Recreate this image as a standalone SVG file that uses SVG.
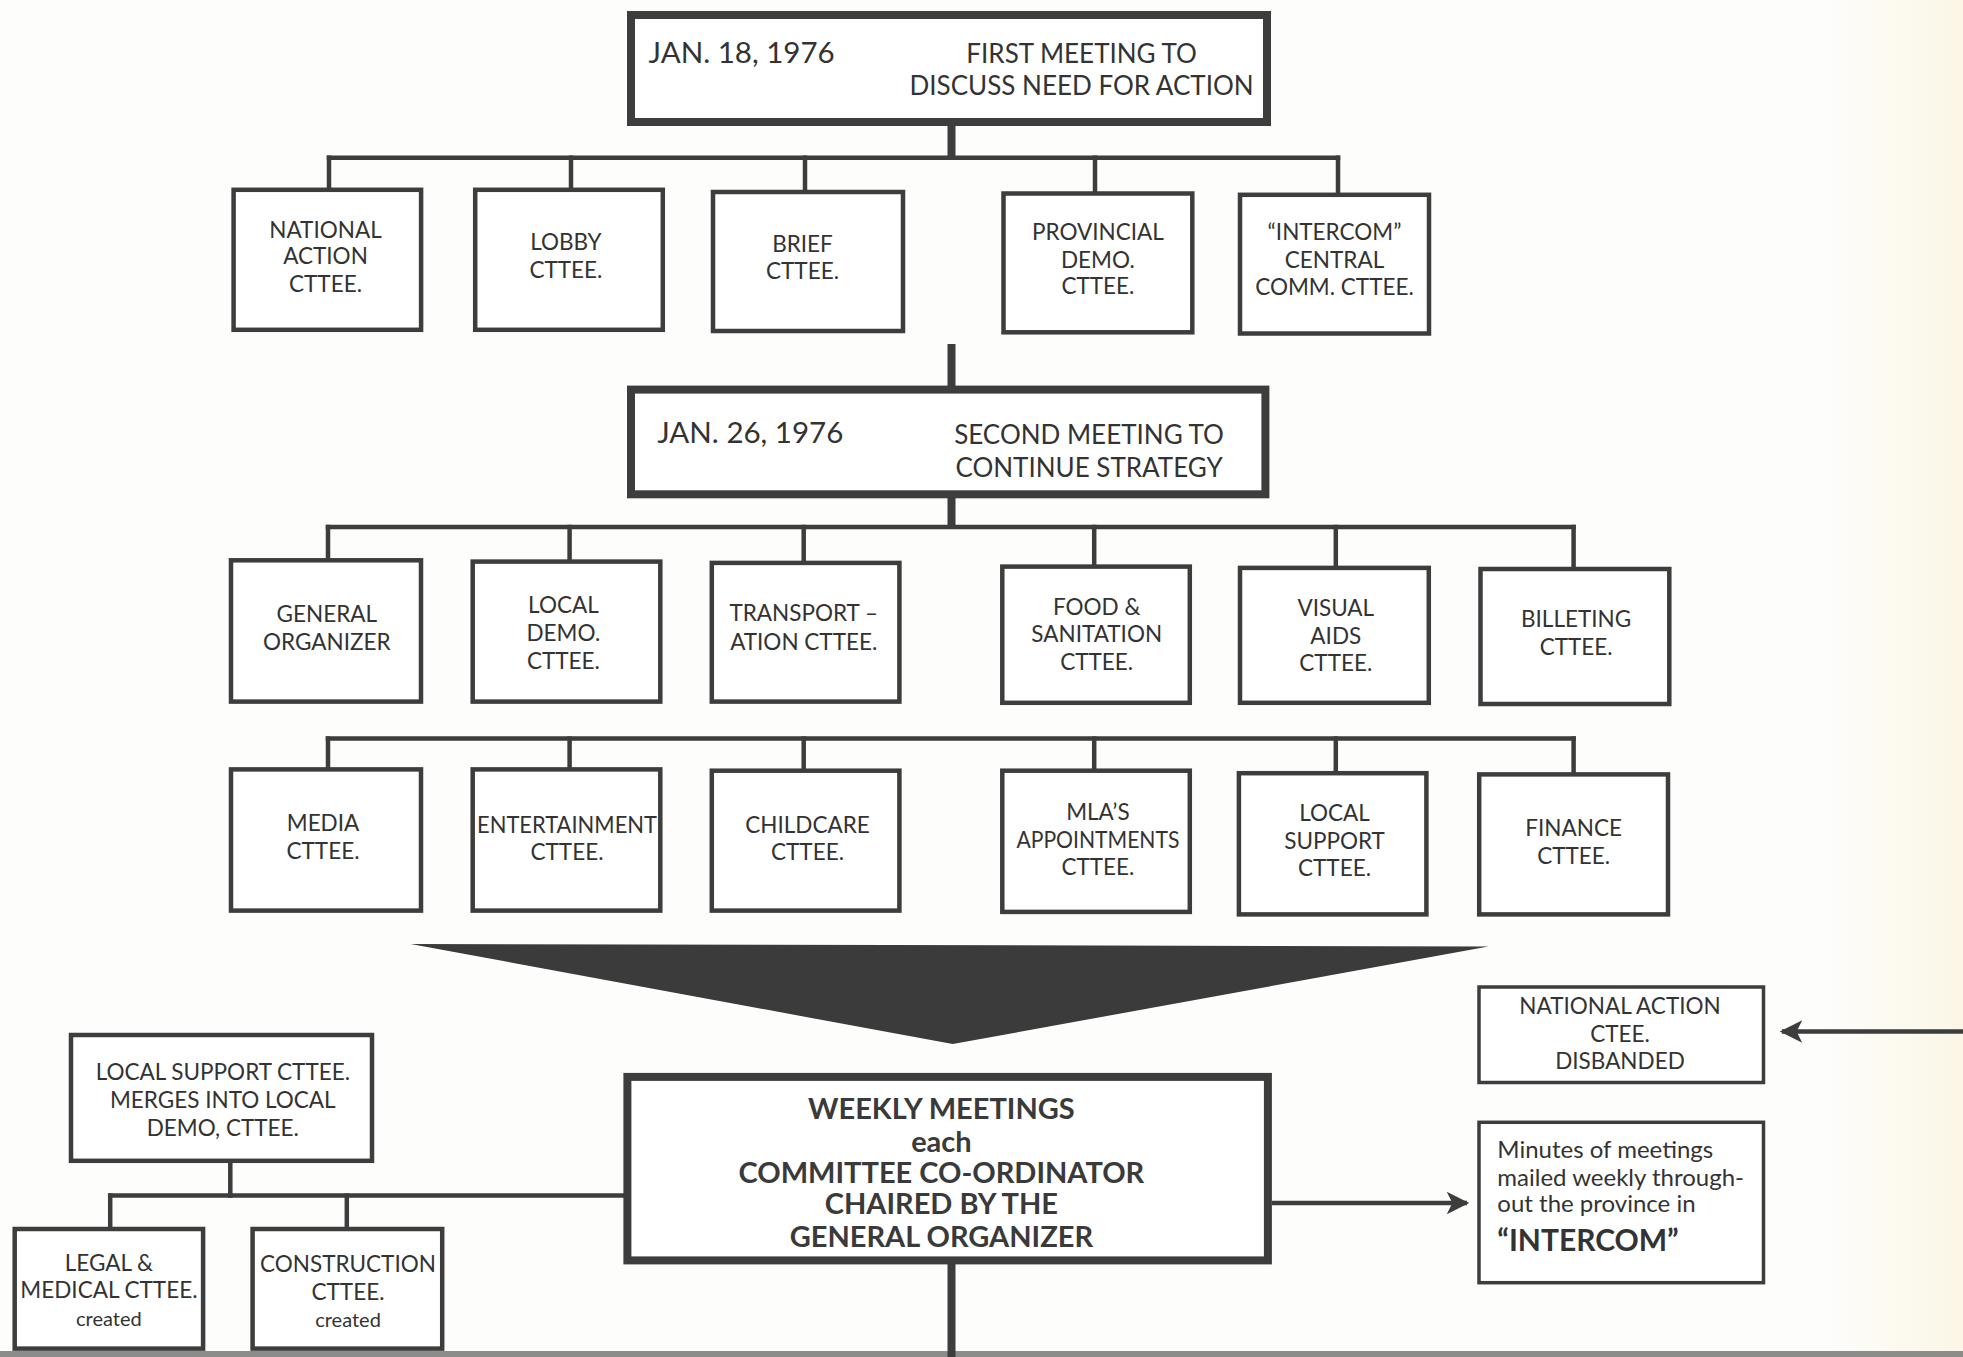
<svg xmlns="http://www.w3.org/2000/svg" width="1963" height="1357" viewBox="0 0 1963 1357">
<defs>
<style>
.bg{fill:#fdfdfc}
.box{fill:#ffffff;stroke:#3d3d3d;stroke-width:4.5}
.hbox{fill:#ffffff;stroke:#3d3d3d;stroke-width:8}
.nbox{fill:#ffffff;stroke:#3d3d3d;stroke-width:3.5}
.ln{stroke:#3d3d3d;stroke-width:4.5;fill:none;stroke-linecap:square}
.st{stroke:#3d3d3d;stroke-width:8;fill:none}
.ar{stroke:#3d3d3d;stroke-width:4.5;fill:none}
text{font-family:Lato,"Open Sans","Liberation Sans",sans-serif;fill:#333333}
.c{font-size:22.5px;text-anchor:middle}
.h{font-size:29.5px}
.hm{font-size:26px;text-anchor:middle}
.w{font-size:29px;text-anchor:middle;font-weight:bold;fill:#3a3a3a}
.sm{font-size:20px;text-anchor:middle}
.m{font-size:24px}
</style>
<marker id="ah" viewBox="0 0 10 10" refX="9" refY="5" markerWidth="6.5" markerHeight="5" markerUnits="strokeWidth" orient="auto">
<path d="M0,0 L10,5 L0,10 L2.5,5 z" fill="#3d3d3d"/>
</marker>
<linearGradient id="cream" x1="0" y1="0" x2="1" y2="0">
<stop offset="0" stop-color="#fdfdfc"/>
<stop offset="1" stop-color="#fbf6e6"/>
</linearGradient>
</defs>
<rect class="bg" x="0" y="0" width="1963" height="1357"/>
<rect x="1820" y="0" width="143" height="1357" fill="url(#cream)"/>
<rect x="0" y="1351" width="1963" height="6" fill="#8c8c8a"/>

<g id="connectors">
<line class="st" x1="951.5" y1="126" x2="951.5" y2="158"/>
<line class="ln" x1="329" y1="157.7" x2="1338" y2="157.7"/>
<line class="ln" x1="329" y1="157.7" x2="329" y2="190"/>
<line class="ln" x1="571" y1="157.7" x2="571" y2="190"/>
<line class="ln" x1="805" y1="157.7" x2="805" y2="192"/>
<line class="ln" x1="1095" y1="157.7" x2="1095" y2="193"/>
<line class="ln" x1="1338" y1="157.7" x2="1338" y2="194"/>
<line class="st" x1="951.5" y1="344" x2="951.5" y2="389"/>
<line class="st" x1="951.5" y1="496" x2="951.5" y2="527"/>
<line class="ln" x1="328" y1="527" x2="1573.6" y2="527"/>
<line class="ln" x1="328" y1="527" x2="328" y2="560"/>
<line class="ln" x1="569.6" y1="527" x2="569.6" y2="561"/>
<line class="ln" x1="803.7" y1="527" x2="803.7" y2="562"/>
<line class="ln" x1="1094.2" y1="527" x2="1094.2" y2="566"/>
<line class="ln" x1="1335.8" y1="527" x2="1335.8" y2="567"/>
<line class="ln" x1="1573.6" y1="527" x2="1573.6" y2="569"/>
<line class="ln" x1="328" y1="738.6" x2="1573.6" y2="738.6"/>
<line class="ln" x1="328" y1="738.6" x2="328" y2="769"/>
<line class="ln" x1="569.6" y1="738.6" x2="569.6" y2="769"/>
<line class="ln" x1="803.7" y1="738.6" x2="803.7" y2="770"/>
<line class="ln" x1="1094.2" y1="738.6" x2="1094.2" y2="770"/>
<line class="ln" x1="1335.8" y1="738.6" x2="1335.8" y2="773"/>
<line class="ln" x1="1573.6" y1="738.6" x2="1573.6" y2="774"/>
<polygon points="410.6,943.9 1488.5,946.4 952.7,1044.1" fill="#3b3b3b"/>
<line class="st" x1="951.5" y1="1262" x2="951.5" y2="1357"/>
<line class="ln" x1="230.3" y1="1163" x2="230.3" y2="1195.6"/>
<line class="ln" x1="110.2" y1="1195.6" x2="624" y2="1195.6"/>
<line class="ln" x1="110.2" y1="1195.6" x2="110.2" y2="1227"/>
<line class="ln" x1="346.8" y1="1195.6" x2="346.8" y2="1227"/>
<line class="ar" x1="1272" y1="1203" x2="1467" y2="1203" marker-end="url(#ah)"/>
<line class="ar" x1="1963" y1="1031.6" x2="1782" y2="1031.6" marker-end="url(#ah)"/>
</g>

<g id="meeting1">
<rect class="hbox" x="631" y="15" width="636" height="107"/>
<text class="h" x="648.5" y="62.6">JAN. 18, 1976</text>
<text class="hm" x="1081.6" y="62.6">FIRST MEETING TO</text>
<text class="hm" x="1081.6" y="95.1">DISCUSS NEED FOR ACTION</text>
</g>

<g id="national-action">
<rect class="box" x="233.6" y="189.8" width="187.5" height="140"/>
<text class="c" x="325.5" y="237.9">NATIONAL</text>
<text class="c" x="325.5" y="264.2">ACTION</text>
<text class="c" x="325.5" y="291.7">CTTEE.</text>
</g>
<g id="lobby">
<rect class="box" x="475.2" y="189.8" width="187.6" height="140"/>
<text class="c" x="565.9" y="250.4">LOBBY</text>
<text class="c" x="565.9" y="277.9">CTTEE.</text>
</g>
<g id="brief">
<rect class="box" x="713" y="192" width="190" height="139"/>
<text class="c" x="802.5" y="251.6">BRIEF</text>
<text class="c" x="802.5" y="279.2">CTTEE.</text>
</g>
<g id="provincial-demo">
<rect class="box" x="1003.5" y="193.5" width="188.8" height="138.8"/>
<text class="c" x="1097.9" y="240.4">PROVINCIAL</text>
<text class="c" x="1097.9" y="267.9">DEMO.</text>
<text class="c" x="1097.9" y="294.2">CTTEE.</text>
</g>
<g id="intercom-central">
<rect class="box" x="1240" y="194.8" width="189" height="138.7"/>
<text class="c" x="1334.5" y="240.4">“INTERCOM”</text>
<text class="c" x="1334.5" y="267.9">CENTRAL</text>
<text class="c" x="1334.5" y="295.4">COMM. CTTEE.</text>
</g>

<g id="meeting2">
<rect class="hbox" x="631" y="389.6" width="634.4" height="104.7"/>
<text class="h" x="657.2" y="443.2">JAN. 26, 1976</text>
<text class="hm" x="1089" y="444.4">SECOND MEETING TO</text>
<text class="hm" x="1089" y="477">CONTINUE STRATEGY</text>
</g>

<g id="general-organizer">
<rect class="box" x="231" y="560.3" width="190" height="141.3"/>
<text class="c" x="326.8" y="622.2">GENERAL</text>
<text class="c" x="326.8" y="649.7">ORGANIZER</text>
</g>
<g id="local-demo">
<rect class="box" x="472.7" y="561.6" width="187.6" height="140"/>
<text class="c" x="563.4" y="613.4">LOCAL</text>
<text class="c" x="563.4" y="641">DEMO.</text>
<text class="c" x="563.4" y="668.5">CTTEE.</text>
</g>
<g id="transportation">
<rect class="box" x="711.8" y="562.9" width="187.6" height="138.7"/>
<text class="c" x="803.7" y="621">TRANSPORT –</text>
<text class="c" x="803.7" y="649.7">ATION CTTEE.</text>
</g>
<g id="food-sanitation">
<rect class="box" x="1002.3" y="566.6" width="187.5" height="136.2"/>
<text class="c" x="1096.7" y="614.7">FOOD &amp;</text>
<text class="c" x="1096.7" y="642.2">SANITATION</text>
<text class="c" x="1096.7" y="669.8">CTTEE.</text>
</g>
<g id="visual-aids">
<rect class="box" x="1240" y="567.9" width="188.8" height="134.9"/>
<text class="c" x="1335.8" y="615.9">VISUAL</text>
<text class="c" x="1335.8" y="643.5">AIDS</text>
<text class="c" x="1335.8" y="671">CTTEE.</text>
</g>
<g id="billeting">
<rect class="box" x="1480.5" y="569" width="188.8" height="135"/>
<text class="c" x="1576.1" y="627.2">BILLETING</text>
<text class="c" x="1576.1" y="654.7">CTTEE.</text>
</g>

<g id="media">
<rect class="box" x="231" y="769.4" width="190" height="141.2"/>
<text class="c" x="323" y="831.3">MEDIA</text>
<text class="c" x="323" y="858.8">CTTEE.</text>
</g>
<g id="entertainment">
<rect class="box" x="472.7" y="769.4" width="187.6" height="141.2"/>
<text class="c" x="567" y="832.5" textLength="180" lengthAdjust="spacingAndGlyphs">ENTERTAINMENT</text>
<text class="c" x="567" y="860.1">CTTEE.</text>
</g>
<g id="childcare">
<rect class="box" x="711.8" y="770.7" width="187.6" height="139.9"/>
<text class="c" x="807.5" y="832.5">CHILDCARE</text>
<text class="c" x="807.5" y="860.1">CTTEE.</text>
</g>
<g id="mla-appointments">
<rect class="box" x="1002.3" y="770.7" width="187.5" height="141.2"/>
<text class="c" x="1097.9" y="820">MLA’S</text>
<text class="c" x="1097.9" y="847.5" textLength="163" lengthAdjust="spacingAndGlyphs">APPOINTMENTS</text>
<text class="c" x="1097.9" y="875.1">CTTEE.</text>
</g>
<g id="local-support">
<rect class="box" x="1238.9" y="773.2" width="187.5" height="141.2"/>
<text class="c" x="1334.5" y="821.2">LOCAL</text>
<text class="c" x="1334.5" y="848.8">SUPPORT</text>
<text class="c" x="1334.5" y="876.3">CTTEE.</text>
</g>
<g id="finance">
<rect class="box" x="1479.2" y="774.4" width="188.8" height="140"/>
<text class="c" x="1573.6" y="836.3">FINANCE</text>
<text class="c" x="1573.6" y="863.8">CTTEE.</text>
</g>

<g id="national-action-disbanded">
<rect class="nbox" x="1479" y="987" width="284.5" height="95.5"/>
<text class="c" x="1620" y="1014">NATIONAL ACTION</text>
<text class="c" x="1620" y="1041.6">CTEE.</text>
<text class="c" x="1620" y="1069.1">DISBANDED</text>
</g>

<g id="weekly-meetings">
<rect class="hbox" x="627.4" y="1076.9" width="640.5" height="183.5"/>
<text class="w" x="941.4" y="1119.2">WEEKLY MEETINGS</text>
<text class="w" x="941.4" y="1151.7">each</text>
<text class="w" x="941.4" y="1183">COMMITTEE CO-ORDINATOR</text>
<text class="w" x="941.4" y="1214.3">CHAIRED BY THE</text>
<text class="w" x="941.4" y="1246.9">GENERAL ORGANIZER</text>
</g>

<g id="minutes">
<rect class="nbox" x="1479" y="1122.3" width="284.5" height="160.4"/>
<text class="m" x="1497.3" y="1158">Minutes of meetings</text>
<text class="m" x="1497.3" y="1185.5">mailed weekly through-</text>
<text class="m" x="1497.3" y="1211.8">out the province in</text>
<text x="1497.3" y="1250.7" style="font-size:30px;font-weight:bold">“INTERCOM”</text>
</g>

<g id="local-support-merges">
<rect class="box" x="71" y="1035" width="301" height="125.8"/>
<text class="c" x="222.8" y="1080.4">LOCAL SUPPORT CTTEE.</text>
<text class="c" x="222.8" y="1108">MERGES INTO LOCAL</text>
<text class="c" x="222.8" y="1135.5">DEMO, CTTEE.</text>
</g>
<g id="legal-medical">
<rect class="box" x="14.7" y="1229" width="188.4" height="119.6"/>
<text class="c" x="108.9" y="1270.7">LEGAL &amp;</text>
<text class="c" x="108.9" y="1298.2">MEDICAL CTTEE.</text>
<text class="sm" x="108.9" y="1325.8">created</text>
</g>
<g id="construction">
<rect class="box" x="252.6" y="1229" width="189.6" height="119.6"/>
<text class="c" x="348" y="1272">CONSTRUCTION</text>
<text class="c" x="348" y="1299.5">CTTEE.</text>
<text class="sm" x="348" y="1327">created</text>
</g>
</svg>
